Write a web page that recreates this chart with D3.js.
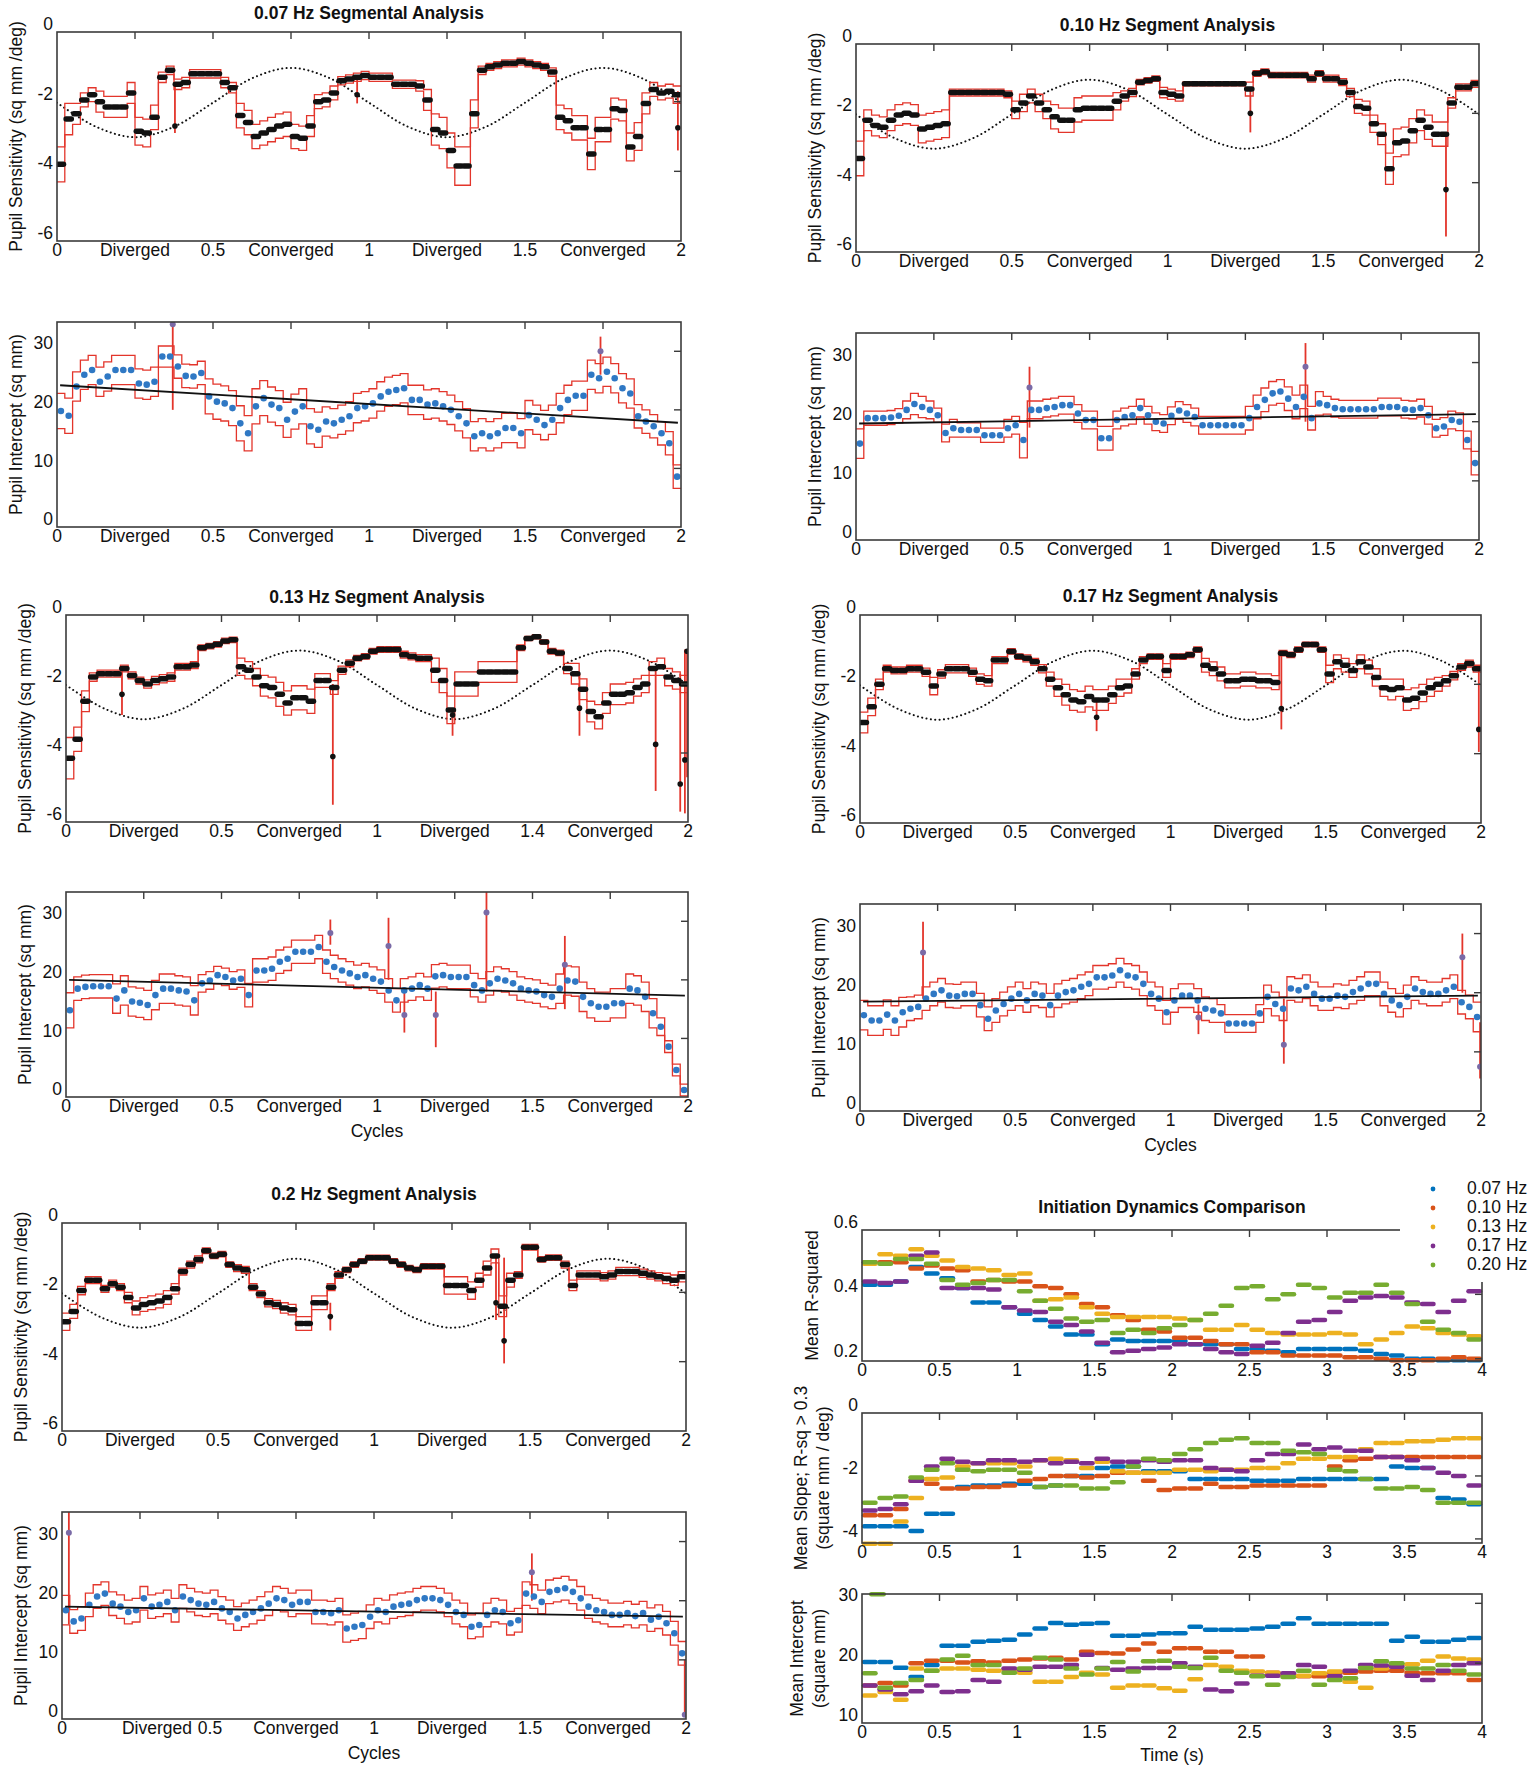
<!DOCTYPE html>
<html><head><meta charset="utf-8">
<script src="https://cdn.jsdelivr.net/npm/d3@7/dist/d3.min.js"></script>
<style>body{margin:0;background:#fff} text{font-family:"Liberation Sans",Arial,Helvetica,sans-serif;fill:#111}</style>
</head><body><svg id="c" width="1535" height="1772"></svg>
<script>
// ---------------- DATA ----------------
const xTickVals = [0,0.25,0.5,0.75,1,1.25,1.5,1.75,2];
const xTickLabels = ["0","Diverged","0.5","Converged","1","Diverged","1.5","Converged","2"];
const xTickLabels13 = ["0","Diverged","0.5","Converged","1","Diverged","1.4","Converged","2"];
const sensTicks = [0,-2,-4,-6];
const intTicks = [0,10,20,30];
const timeTicks = [0,0.5,1,1.5,2,2.5,3,3.5,4];
const timeTickLabels = ["0","0.5","1","1.5","2","2.5","3","3.5","4"];
const rsqTicks = [0.2,0.4,0.6];
const slopeTicks = [-4,-2,0];
const meanIntTicks = [10,20,30];

// stimulus (dotted trace), read at every 1/8 cycle
const stimulusCycles = [0,0.125,0.25,0.375,0.5,0.625,0.75,0.875,1,1.125,1.25,1.375,1.5,1.625,1.75,1.875,2];
const stimulus = [-2.03,-2.72,-3.02,-2.72,-2.03,-1.33,-1.03,-1.33,-2.03,-2.72,-3.02,-2.72,-2.03,-1.33,-1.03,-1.33,-2.03];

// segment values, one per 0.025 cycle (80 per series)
const sens07 = [-3.8,-2.5,-2.35,-1.95,-1.8,-2.0,-2.15,-2.15,-2.15,-1.75,
-2.85,-2.9,-2.45,-1.3,-1.1,-1.5,-1.45,-1.2,-1.2,-1.2,
-1.2,-1.45,-1.6,-2.4,-2.6,-3.0,-2.9,-2.8,-2.7,-2.65,
-3.0,-3.05,-2.7,-2.0,-1.95,-1.75,-1.4,-1.35,-1.3,-1.25,
-1.3,-1.3,-1.3,-1.5,-1.5,-1.5,-1.55,-1.95,-2.8,-2.9,
-3.4,-3.85,-3.85,-2.35,-1.1,-1.0,-0.95,-0.9,-0.9,-0.85,
-0.9,-0.95,-1.0,-1.15,-2.45,-2.55,-2.75,-2.75,-3.5,-2.8,
-2.8,-2.2,-2.25,-3.3,-3.0,-2.05,-1.65,-1.75,-1.7,-1.8];
const sens07Spread = [0.5,0.45,0.3,0.2,0.2,0.3,0.3,0.3,0.3,0.3,
0.4,0.4,0.35,0.15,0.12,0.15,0.15,0.12,0.12,0.12,
0.12,0.15,0.15,0.35,0.35,0.35,0.35,0.35,0.35,0.35,
0.35,0.35,0.3,0.2,0.2,0.2,0.12,0.12,0.12,0.12,
0.12,0.12,0.12,0.12,0.12,0.12,0.15,0.3,0.45,0.45,
0.5,0.55,0.55,0.4,0.12,0.1,0.1,0.1,0.1,0.1,
0.1,0.1,0.1,0.12,0.35,0.35,0.35,0.35,0.45,0.35,
0.35,0.3,0.3,0.4,0.4,0.3,0.2,0.2,0.2,0.25];
const sens07Spikes = [[0.378,-2.9,-1.5,-2.7],[0.962,-2.05,-1.3,-1.8],[1.99,-3.4,-1.7,-2.75]];

const sens10 = [-3.3,-2.2,-2.35,-2.4,-2.2,-2.05,-2.0,-2.05,-2.45,-2.4,
-2.35,-2.3,-1.4,-1.4,-1.4,-1.4,-1.4,-1.4,-1.4,-1.45,
-1.9,-1.7,-1.5,-1.7,-1.9,-2.1,-2.2,-2.2,-1.9,-1.85,
-1.85,-1.85,-1.85,-1.65,-1.5,-1.4,-1.1,-1.05,-1.0,-1.4,
-1.45,-1.5,-1.15,-1.15,-1.15,-1.15,-1.15,-1.15,-1.15,-1.15,
-1.3,-0.85,-0.8,-0.9,-0.9,-0.9,-0.9,-0.9,-1.0,-0.85,
-1.0,-1.0,-1.1,-1.4,-1.8,-1.85,-2.3,-2.6,-3.6,-2.85,
-2.8,-2.5,-2.2,-2.4,-2.6,-2.6,-1.7,-1.25,-1.25,-1.15];
const sens10Spread = [0.5,0.3,0.3,0.3,0.3,0.3,0.3,0.3,0.4,0.4,
0.4,0.4,0.1,0.1,0.1,0.1,0.1,0.1,0.1,0.1,
0.25,0.25,0.2,0.25,0.25,0.35,0.35,0.35,0.35,0.35,
0.35,0.35,0.35,0.25,0.15,0.12,0.08,0.08,0.08,0.15,
0.15,0.15,0.06,0.06,0.06,0.06,0.06,0.06,0.06,0.06,
0.2,0.08,0.08,0.08,0.08,0.08,0.08,0.08,0.1,0.08,
0.1,0.1,0.1,0.12,0.2,0.2,0.25,0.3,0.45,0.4,
0.4,0.35,0.3,0.35,0.35,0.35,0.15,0.1,0.1,0.1];
const sens10Spikes = [[1.266,-2.55,-1.3,-2.0],[1.894,-5.55,-2.6,-4.2]];

const sens13 = [-4.15,-3.6,-2.5,-1.8,-1.7,-1.7,-1.7,-1.55,-1.75,-1.9,
-2.0,-1.9,-1.85,-1.8,-1.5,-1.5,-1.45,-0.95,-0.9,-0.85,
-0.75,-0.72,-1.5,-1.6,-1.8,-2.05,-2.1,-2.3,-2.55,-2.4,
-2.4,-2.5,-1.9,-1.9,-2.1,-1.6,-1.4,-1.25,-1.2,-1.05,
-1.0,-1.0,-1.0,-1.15,-1.2,-1.25,-1.25,-1.6,-1.9,-2.75,
-2.0,-2.0,-2.0,-1.65,-1.65,-1.65,-1.65,-1.65,-0.95,-0.68,
-0.63,-0.78,-1.05,-1.1,-1.55,-1.7,-2.15,-2.8,-2.95,-2.55,
-2.3,-2.3,-2.25,-2.1,-2.0,-1.55,-1.5,-1.8,-1.9,-2.0];
const sens13Spread = [0.6,0.35,0.3,0.12,0.1,0.1,0.1,0.1,0.1,0.1,
0.12,0.12,0.12,0.12,0.1,0.1,0.1,0.08,0.08,0.08,
0.08,0.08,0.25,0.25,0.25,0.3,0.3,0.35,0.35,0.35,
0.35,0.35,0.2,0.2,0.2,0.12,0.1,0.08,0.08,0.08,
0.08,0.08,0.08,0.1,0.1,0.1,0.1,0.35,0.35,0.4,
0.35,0.35,0.35,0.3,0.3,0.3,0.3,0.3,0.08,0.06,
0.06,0.06,0.08,0.08,0.15,0.3,0.3,0.3,0.35,0.3,
0.3,0.3,0.3,0.25,0.25,0.2,0.25,0.25,0.25,0.25];
const sens13Spikes = [[0.18,-2.9,-1.6,-2.3],[0.858,-5.5,-2.0,-4.1],[1.243,-3.5,-2.7,-2.9],[1.651,-3.5,-1.7,-2.7],
[1.896,-5.1,-1.6,-3.75],[1.975,-5.7,-1.7,-4.9],[1.99,-5.75,-1.0,-4.2],[1.997,-4.7,-1.0,-1.05]];

const sens17 = [-3.1,-2.65,-2.0,-1.55,-1.6,-1.6,-1.55,-1.55,-1.65,-2.05,
-1.7,-1.55,-1.55,-1.55,-1.65,-1.85,-1.9,-1.3,-1.3,-1.05,
-1.2,-1.25,-1.35,-1.55,-1.85,-2.1,-2.3,-2.45,-2.5,-2.35,
-2.45,-2.45,-2.3,-2.1,-2.05,-1.7,-1.3,-1.2,-1.2,-1.6,
-1.2,-1.2,-1.15,-1.0,-1.45,-1.55,-1.7,-1.9,-1.9,-1.85,
-1.85,-1.9,-1.9,-1.95,-1.1,-1.15,-1.0,-0.85,-0.85,-1.0,
-1.7,-1.35,-1.45,-1.6,-1.35,-1.5,-1.8,-2.1,-2.15,-2.1,
-2.45,-2.4,-2.25,-2.1,-2.0,-1.9,-1.75,-1.5,-1.4,-1.55];
const sens17Spread = [0.3,0.25,0.15,0.1,0.1,0.1,0.1,0.1,0.12,0.25,
0.12,0.12,0.12,0.12,0.12,0.15,0.15,0.1,0.1,0.08,
0.08,0.1,0.1,0.12,0.2,0.25,0.3,0.3,0.3,0.3,
0.3,0.3,0.25,0.25,0.2,0.15,0.1,0.08,0.08,0.2,
0.08,0.08,0.08,0.08,0.2,0.2,0.2,0.2,0.2,0.2,
0.2,0.2,0.2,0.2,0.08,0.08,0.08,0.07,0.07,0.08,
0.25,0.2,0.2,0.2,0.2,0.2,0.25,0.25,0.3,0.25,
0.3,0.3,0.25,0.25,0.2,0.15,0.12,0.1,0.1,0.1];
const sens17Spikes = [[0.762,-3.35,-2.5,-2.95],[1.357,-3.3,-1.1,-2.7],[1.993,-3.95,-1.55,-3.3]];

const sens20 = [-2.85,-2.55,-1.95,-1.65,-1.65,-1.9,-1.75,-1.85,-2.15,-2.45,
-2.35,-2.3,-2.25,-2.15,-1.9,-1.4,-1.2,-1.05,-0.8,-0.95,
-0.9,-1.2,-1.3,-1.35,-1.85,-2.05,-2.3,-2.35,-2.45,-2.5,
-2.9,-2.9,-2.3,-2.3,-1.85,-1.5,-1.35,-1.2,-1.1,-1.0,
-1.0,-1.0,-1.1,-1.2,-1.3,-1.35,-1.25,-1.25,-1.25,-1.8,
-1.8,-1.8,-1.95,-1.65,-1.3,-0.95,-2.4,-1.65,-1.5,-0.7,
-0.7,-1.05,-1.0,-1.0,-1.2,-1.8,-1.5,-1.5,-1.5,-1.55,
-1.5,-1.4,-1.4,-1.4,-1.45,-1.5,-1.55,-1.6,-1.65,-1.55];
const sens20Spread = [0.25,0.2,0.12,0.1,0.1,0.1,0.1,0.1,0.15,0.2,
0.2,0.2,0.2,0.2,0.15,0.1,0.1,0.1,0.08,0.08,
0.08,0.08,0.1,0.1,0.1,0.1,0.12,0.12,0.15,0.15,
0.2,0.2,0.2,0.2,0.1,0.1,0.08,0.08,0.07,0.07,
0.07,0.07,0.07,0.08,0.08,0.08,0.08,0.08,0.08,0.25,
0.25,0.25,0.25,0.2,0.2,0.2,0.3,0.2,0.1,0.08,
0.08,0.08,0.08,0.08,0.1,0.15,0.12,0.12,0.12,0.12,
0.12,0.12,0.12,0.12,0.12,0.12,0.12,0.15,0.15,0.15];
const sens20Spikes = [[0.86,-3.1,-2.3,-2.7],[1.391,-2.8,-1.0,-2.3],[1.417,-4.05,-1.0,-3.4]];

const int07 = [19.8,19.0,24.0,26.0,26.8,24.8,25.7,26.8,26.8,26.8,
24.5,24.3,24.8,29.1,29.1,27.4,25.8,25.7,26.3,22.3,
21.4,21.1,20.3,17.7,16.0,20.6,22.0,20.9,20.3,18.3,
19.7,20.6,17.2,16.6,18.0,17.7,18.3,18.9,20.3,20.6,
21.1,22.3,23.1,23.4,23.7,21.7,21.7,20.9,21.1,20.6,
20.0,18.9,17.7,15.5,16.0,15.5,16.0,16.9,16.9,16.0,
19.1,18.3,17.4,18.3,20.3,21.7,22.4,22.4,26.0,25.4,
26.5,25.4,23.7,22.8,18.9,18.0,17.2,16.0,14.3,8.6];
const int07Spread = [3,3,2.5,2.5,2.5,2.5,2.5,2.5,2.5,2.5,
2.5,2.5,2.5,1.8,1.8,2,2,2,2,3,
3,3,3,3,3,3,3,3,3,3,
3,3,3,3,2.5,2.5,2.5,2.5,2.5,2.5,
2.5,2.5,2.5,2.5,2.5,2.5,2.5,2.5,2.5,2.5,
2.5,2.5,2.5,2.5,2.5,2.5,2.5,2.5,2.5,2.5,
2.5,2.5,2.5,2.5,2.5,2.5,2.5,2.5,2.5,2.5,
2.5,2.5,2.5,2.5,2,2,2,2,2,2];
const int07Spikes = [[0.371,20,35,34.6],[1.742,26,32.5,30]];
const int07Trend = [24.2,17.8];

const int10 = [16.3,20.6,20.6,20.6,20.7,21.0,22.0,23.0,22.5,22.0,
21.1,18.1,18.9,18.6,18.6,18.6,17.7,17.7,17.7,18.9,
19.4,16.9,22.0,22.0,22.3,22.5,22.8,22.8,21.4,20.3,
20.3,17.2,17.2,20.3,20.8,21.1,22.3,21.1,20.0,19.7,
21.0,21.9,21.4,20.8,19.4,19.4,19.4,19.4,19.4,19.4,
20.6,22.5,23.7,24.8,25.1,23.9,22.5,24.2,20.6,23.1,
22.8,22.3,22.1,22.1,22.1,22.1,22.1,22.5,22.5,22.5,
22.1,22.0,22.3,21.1,18.9,19.2,20.3,20.0,16.9,13.0];
const int10Spread = [2.5,1.2,1.2,1.2,1.2,1.2,1.5,1.8,1.8,1.5,
1.2,1.5,1.5,1.2,1.2,1.2,1.2,1.2,1.2,1.5,
1.5,3,1.5,1.5,1.5,1.5,1.5,1.5,1.5,1.5,
1.5,2,2,1.5,1.5,1.5,1.5,1.5,1.5,1.5,
1.5,1.5,1.5,1.5,1.5,1.5,1.5,1.5,1.5,1.5,
2,2,2,2,2,2,2,2,2,2,
1.5,1.5,1.5,1.5,1.5,1.5,1.5,1.5,1.5,1.5,
1.5,1.5,1.5,1.5,1.5,1.5,1.5,1.5,1.5,2];
const int10Spikes = [[0.557,19,29.3,25.8],[1.443,20,33.3,29.3]];
const int10Trend = [19.7,21.3];

const int13 = [14.8,18.5,18.8,18.9,18.9,18.9,16.8,18.2,16.3,16.1,
15.7,17.4,18.5,18.5,18.2,18.0,16.5,19.4,19.9,20.8,
20.5,19.9,20.2,17.4,21.6,21.6,21.9,23.1,23.6,24.8,
24.8,24.8,25.6,23.1,22.2,21.6,21.1,20.5,20.8,20.2,
19.7,18.2,16.5,18.2,18.5,19.1,18.5,20.6,20.8,20.5,
20.5,20.5,19.1,18.2,19.4,20.2,19.9,19.4,18.5,18.2,
18.0,17.4,17.1,18.5,19.9,19.7,17.1,16.0,15.4,15.4,
16.0,16.0,18.5,18.2,17.1,14.3,12.0,8.6,4.6,1.2];
const int13Spread = [3,2,2,2,2,2,2.5,2.5,2.5,2.5,
2.5,2.5,2.5,2.5,2.5,2.5,2.5,1.5,1.5,1.5,
1.5,1.5,1.5,2,2,2,2,2,2,2,
2,2,2,2,2,2,2,2,2,2,
2,2,2,2,2,2,2,2,2,2,
2,2,2,2,2,2,2,2,2,2,
2,2,2,2.5,2.5,2.5,2.5,2.5,2.5,2.5,
2.5,2.5,2.5,2.5,2.5,2.5,1.5,1,1,1];
const int13Spikes = [[0.85,26,30.3,28],[1.037,20,30.6,25.8],[1.088,11,18,14],[1.189,8.5,18,14],[1.352,18,35,31.5],[1.604,15,27.5,22.6]];
const int13Trend = [20.0,17.3];

const int17 = [16.2,15.3,15.3,16.3,15.3,16.7,17.3,17.6,19.0,19.8,
20.4,19.5,19.4,19.8,19.8,17.9,15.6,17.0,18.1,19.0,
19.8,18.7,19.8,19.5,17.9,19.5,20.1,20.4,21.0,21.5,
22.6,22.6,22.9,23.8,22.9,22.6,21.5,19.8,19.0,16.7,
18.7,19.5,19.5,18.7,17.3,17.0,16.5,14.8,14.8,14.8,
14.8,16.5,19.3,18.1,17.3,20.7,20.4,21.0,19.8,19.0,
19.0,19.5,19.3,20.1,20.7,21.5,21.5,19.8,18.7,17.9,
19.3,20.7,20.1,19.8,19.8,20.4,21.0,18.4,17.6,15.9];
const int17Spread = [2.5,2.5,2.5,2.5,2.5,2.5,2,2,2,2,
2,2,2,2,2,2,2,2,2,2,
2,2,2,2,2,2,2,2,2,2,
2,2,2,2,2,2,2,2,2,2,
2,2,2,2,2,2,1.5,1.5,1.5,1.5,
1.5,1.5,2,2,2,2,2,2,2,2,
2,2,2,2,2,2,2,2,2,2,
2,2,2,2,2,2,2,2,2,2.5];
const int17Spikes = [[0.203,19,32,26.8],[1.09,13,18,15.8],[1.365,8,19,11.2],[1.94,20,30,26],[1.997,5.5,15,7.5]];
const int17Trend = [18.5,19.5];

const int20 = [18.4,16.5,17.0,19.3,20.7,21.2,19.5,19.0,18.1,18.4,
20.4,19.0,19.3,19.8,18.4,20.7,20.1,19.5,19.3,19.8,
18.7,18.1,17.0,17.6,18.1,18.7,19.5,20.4,20.1,19.3,
19.8,19.8,18.1,18.1,17.9,18.4,15.3,15.6,15.9,17.3,
18.4,18.1,19.0,19.3,19.5,20.1,20.4,20.4,20.1,19.3,
18.1,17.6,15.6,15.9,17.6,18.4,18.1,16.2,16.7,21.2,
20.7,19.8,21.5,21.8,22.1,21.5,20.4,19.0,18.4,18.1,
17.6,17.6,17.9,17.4,17.9,16.8,17.3,16.2,14.5,11.1];
const int20Spread = [2.5,2,2,2,2,2,2,2,2,2,
2,2,2,2,2,2,2,2,2,2,
2,2,2,2,2,2,2,2,2,2,
2,2,2,2,2,2,2.3,2.3,2.3,2,
2,2,2,2,2,2,2,2,2,2,
2,2,2,2,2,2,2,2,2,2,
2,2,2,2,2,2,2,2,2,2,
2,2,2,2,2,2,2,2,2,2];
const int20Spikes = [[0.022,16,35,31.5],[1.506,20,28,24.8],[1.996,0.5,10,0.7]];
const int20Trend = [19.0,17.3];

// Initiation dynamics: one value per 0.1 s (40 per series)
const freqNames = ["0.07 Hz","0.10 Hz","0.13 Hz","0.17 Hz","0.20 Hz"];
const freqColors = ["#0072BD","#D95319","#EDB120","#7E2F8E","#77AC30"];
const rsq07 = [0.43,0.43,0.44,0.485,0.465,0.45,0.42,0.375,0.375,0.36,0.34,0.32,0.30,0.275,0.275,0.245,0.26,0.255,0.255,0.255,0.255,0.245,0.245,0.245,0.23,0.23,0.225,0.22,0.23,0.23,0.23,0.23,0.225,0.215,0.21,0.2,0.2,0.195,0.195,0.195];
const rsq10 = [0.50,0.50,0.50,0.48,0.49,0.48,0.475,0.44,0.445,0.44,0.44,0.425,0.42,0.40,0.37,0.36,0.335,0.32,0.29,0.285,0.265,0.265,0.255,0.245,0.245,0.22,0.22,0.21,0.21,0.21,0.21,0.205,0.205,0.2,0.195,0.195,0.195,0.2,0.205,0.2];
const rsq13 = [0.495,0.525,0.52,0.54,0.52,0.505,0.485,0.48,0.475,0.46,0.465,0.38,0.385,0.39,0.36,0.34,0.33,0.33,0.33,0.33,0.325,0.32,0.29,0.29,0.305,0.29,0.28,0.275,0.275,0.275,0.28,0.275,0.245,0.26,0.28,0.30,0.295,0.28,0.275,0.27];
const rsq17 = [0.44,0.435,0.44,0.52,0.53,0.42,0.42,0.42,0.415,0.36,0.35,0.345,0.315,0.305,0.285,0.25,0.22,0.225,0.23,0.235,0.245,0.245,0.23,0.22,0.215,0.24,0.25,0.28,0.315,0.32,0.345,0.38,0.39,0.395,0.39,0.375,0.37,0.345,0.38,0.41];
const rsq20 = [0.50,0.495,0.51,0.51,0.495,0.445,0.43,0.435,0.445,0.445,0.41,0.38,0.355,0.325,0.315,0.32,0.28,0.29,0.28,0.295,0.305,0.32,0.34,0.365,0.42,0.425,0.385,0.40,0.43,0.42,0.39,0.405,0.405,0.43,0.405,0.37,0.315,0.29,0.28,0.26];

const slope07 = [-3.6,-3.6,-3.6,-3.75,-3.2,-3.2,-2.35,-2.3,-2.3,-2.25,-2.25,-2.35,-2.3,-2.0,-2.0,-1.75,-1.7,-1.7,-1.85,-1.85,-1.85,-2.1,-2.1,-2.1,-2.1,-2.15,-2.15,-2.15,-2.1,-2.1,-2.1,-2.1,-2.1,-2.1,-1.7,-1.75,-1.75,-2.7,-2.75,-2.9];
const slope10 = [-3.25,-3.25,-3.05,-2.15,-2.25,-2.4,-2.4,-2.35,-2.35,-2.3,-2.15,-2.1,-2.0,-2.0,-2.05,-2.0,-1.9,-1.9,-2.15,-2.45,-2.4,-2.4,-2.25,-2.35,-2.35,-2.3,-2.3,-2.3,-2.3,-2.3,-1.7,-1.5,-1.45,-1.4,-1.4,-1.4,-1.4,-1.4,-1.4,-1.4];
const slope13 = [-4.15,-4.15,-3.45,-2.7,-2.1,-2.05,-1.7,-1.6,-1.6,-1.6,-1.7,-1.5,-1.45,-1.5,-1.75,-1.55,-1.85,-1.9,-1.9,-1.9,-1.8,-1.8,-1.85,-1.8,-1.8,-1.75,-1.75,-1.6,-1.45,-1.45,-1.4,-1.4,-1.15,-0.95,-0.95,-0.9,-0.9,-0.85,-0.8,-0.8];
const slope17 = [-3.1,-3.05,-2.9,-2.15,-1.7,-1.45,-1.55,-1.6,-1.5,-1.5,-1.55,-1.5,-1.6,-1.55,-1.6,-1.45,-1.55,-1.55,-1.5,-1.55,-1.5,-1.5,-1.75,-1.8,-1.85,-1.5,-1.3,-1.3,-1.0,-1.15,-1.1,-1.2,-1.2,-1.4,-1.4,-1.5,-1.75,-1.9,-2.0,-2.3];
const slope20 = [-2.85,-2.7,-2.65,-2.05,-1.8,-1.6,-1.8,-1.85,-1.8,-1.8,-1.9,-2.35,-2.3,-2.3,-2.4,-2.4,-2.2,-1.7,-1.45,-1.5,-1.3,-1.15,-0.95,-0.85,-0.8,-0.95,-0.95,-1.2,-1.25,-1.3,-1.8,-1.85,-2.1,-2.4,-2.4,-2.35,-2.45,-2.85,-2.85,-2.85];

const mint07 = [20.2,20.2,19.25,17.7,19.7,22.9,22.9,23.6,23.75,23.9,24.8,25.8,26.7,26.4,26.6,26.7,24.6,24.6,24.8,25.0,25.0,26.1,25.6,25.6,25.6,25.8,26.1,26.6,27.5,26.6,26.6,26.6,26.6,26.6,23.75,24.4,23.6,23.6,23.9,24.2];
const mint10 = [16.25,16.7,16.25,20.0,20.4,20.4,20.1,20.3,20.1,20.4,20.6,20.8,20.9,20.6,21.9,21.7,21.6,22.3,23.3,21.9,22.5,22.5,21.9,21.9,21.1,21.1,18.4,18.1,17.8,17.8,18.4,18.4,18.6,18.75,18.75,18.4,18.3,18.3,18.3,17.2];
const mint13 = [14.6,15.2,13.9,19.1,18.75,19.1,19.1,18.9,18.75,18.9,18.4,16.9,16.9,17.7,18.4,18.1,15.9,16.25,16.25,15.8,15.4,17.3,19.7,19.4,18.75,18.6,18.4,17.9,17.9,18.3,18.6,16.9,15.9,19.1,19.7,19.8,20.4,21.1,20.8,20.6];
const mint17 = [16.25,15.6,14.8,15.3,16.25,15.2,15.3,17.2,16.9,19.1,18.9,19.4,19.4,19.7,21.4,19.2,18.9,19.1,19.2,19.2,20.0,19.4,15.6,15.3,16.6,17.9,17.9,18.3,19.7,19.4,17.8,18.75,19.7,19.6,19.4,17.9,17.2,18.75,19.7,20.0];
const mint20 = [18.3,15.9,16.7,17.2,18.75,20.6,21.25,19.7,19.7,18.4,19.1,20.9,20.6,19.1,18.1,19.1,20.2,18.6,20.3,20.4,19.4,19.2,20.9,18.75,18.4,17.8,16.4,17.7,18.75,16.4,17.2,17.5,19.2,20.3,20.0,19.1,19.1,19.7,18.75,18.1];
const mint20Outlier = [[0.1,31.5]];

// ---------------- DRAWING ----------------
const svg = d3.select('#c');
svg.append('rect').attr('width',1535).attr('height',1772).attr('fill','#fff');
const RED='#E3352B', BLUE='#2F78C4', FRAME='#3b3b3b', FS=17.5;
let clipN=0;

function clipFor(l,t,r,b){
  const id='clip'+(clipN++);
  svg.append('clipPath').attr('id',id).append('rect').attr('x',l).attr('y',t).attr('width',r-l).attr('height',b-t);
  return `url(#${id})`;
}
function frame(g,p,xs,ys,xVals,yVals){
  g.append('rect').attr('x',p.l).attr('y',p.t).attr('width',p.r-p.l).attr('height',p.b-p.t)
   .attr('fill','none').attr('stroke',FRAME).attr('stroke-width',1.6);
  xVals.forEach(v=>{ const X=xs(v); if(X>p.l+2&&X<p.r-2) g.append('line').attr('x1',X).attr('x2',X).attr('y1',p.t).attr('y2',p.t+7).attr('stroke',FRAME).attr('stroke-width',1.4);});
  yVals.forEach(v=>{ const Y=ys(v); if(Y>p.t+2&&Y<p.b-2) g.append('line').attr('x1',p.r).attr('x2',p.r-7).attr('y1',Y).attr('y2',Y).attr('stroke',FRAME).attr('stroke-width',1.4);});
}
function yTickText(g,p,ys,vals,labels){
  vals.forEach((v,i)=>g.append('text').attr('x',p.l-4).attr('y',ys(v)-8).attr('dy','0.35em')
    .attr('text-anchor','end').attr('font-size',FS).text(labels?labels[i]:String(v)));
}
function xTickText(g,p,xs,vals,labels,dxs){
  vals.forEach((v,i)=>g.append('text').attr('x',xs(v)+((dxs&&dxs[i])||0)).attr('y',p.b+15)
    .attr('text-anchor','middle').attr('font-size',FS).text(labels[i]));
}
function yTitle(g,x,cy,lines){
  const t=g.append('text').attr('transform',`translate(${x},${cy}) rotate(-90)`).attr('text-anchor','middle').attr('font-size',FS);
  lines.forEach((s,i)=>t.append('tspan').attr('x',0).attr('dy',i===0?(lines.length===1?'0.35em':'-0.25em'):'1.2em').text(s));
}

function drawSeg(p){
  const xs=d3.scaleLinear().domain([0,2]).range([p.l,p.r]);
  const ys=d3.scaleLinear().domain(p.dom).range([p.b,p.t]);
  const g=svg.append('g');
  const pg=g.append('g').attr('clip-path',clipFor(p.l,p.t,p.r,p.b));
  if(p.sens){
    pg.append('path').attr('d',d3.line().x((d,i)=>xs(stimulusCycles[i])).y(d=>ys(d)).curve(d3.curveCatmullRom)(stimulus))
      .attr('fill','none').attr('stroke','#111').attr('stroke-width',2).attr('stroke-dasharray','0.1 4.3').attr('stroke-linecap','round');
  }
  const n=p.vals.length, st=2/n;
  const stepLine=d3.line().x(d=>xs(d[0])).y(d=>ys(d[1])).curve(d3.curveStepAfter);
  [1,-1].forEach(sg=>{
    const pts=p.vals.map((v,i)=>[i*st, v+sg*p.spread[i]]);
    pts.push([2, pts[n-1][1]]);
    pg.append('path').attr('d',stepLine(pts)).attr('fill','none').attr('stroke',RED).attr('stroke-width',1.3);
  });
  pg.selectAll(null).data(p.spikes).join('line')
    .attr('x1',d=>xs(d[0])).attr('x2',d=>xs(d[0])).attr('y1',d=>ys(d[1])).attr('y2',d=>ys(d[2]))
    .attr('stroke',RED).attr('stroke-width',1.8);
  if(p.sens){
    pg.selectAll(null).data(p.vals).join('line')
      .attr('x1',(d,i)=>xs(i*st)+1.3).attr('x2',(d,i)=>xs((i+1)*st)-1.3)
      .attr('y1',d=>ys(d)).attr('y2',d=>ys(d))
      .attr('stroke','#111').attr('stroke-width',5.5).attr('stroke-linecap','round');
    pg.selectAll(null).data(p.spikes).join('circle').attr('cx',d=>xs(d[0])).attr('cy',d=>ys(d[3])).attr('r',2.8).attr('fill','#111');
  } else {
    pg.selectAll(null).data(p.vals).join('circle')
      .attr('cx',(d,i)=>xs((i+0.5)*st)).attr('cy',d=>ys(d)).attr('r',3.3).attr('fill',BLUE);
    pg.selectAll(null).data(p.spikes).join('circle').attr('cx',d=>xs(d[0])).attr('cy',d=>ys(d[3])).attr('r',3).attr('fill','#7a6aa6');
    g.append('line').attr('x1',xs(0.01)).attr('x2',xs(1.99)).attr('y1',ys(p.trend[0])).attr('y2',ys(p.trend[1]))
      .attr('stroke','#111').attr('stroke-width',1.8);
  }
  const yv=p.sens?sensTicks:intTicks;
  frame(g,p,xs,ys,xTickVals,yv);
  yTickText(g,p,ys,yv);
  xTickText(g,p,xs,xTickVals,p.xLabels||xTickLabels,p.labelDx);
  yTitle(g,p.l-41,(p.t+p.b)/2,[p.sens?'Pupil Sensitivity (sq mm /deg)':'Pupil Intercept (sq mm)']);
  if(p.title) g.append('text').attr('x',(p.l+p.r)/2).attr('y',p.titleY).attr('text-anchor','middle')
     .attr('font-size',FS).attr('font-weight','bold').text(p.title);
  if(p.cycles) g.append('text').attr('x',(p.l+p.r)/2).attr('y',p.cycles).attr('text-anchor','middle').attr('font-size',FS).text('Cycles');
}

const L1={l:57,r:681},L3={l:66,r:688},L5={l:62,r:686},R1={l:856,r:1479},R3={l:860,r:1481};
drawSeg({...L1,t:32,b:241,dom:[-6,0],sens:true,vals:sens07,spread:sens07Spread,spikes:sens07Spikes,title:'0.07 Hz Segmental Analysis',titleY:19});
drawSeg({...L1,t:322,b:527,dom:[0,35],sens:false,vals:int07,spread:int07Spread,spikes:int07Spikes,trend:int07Trend});
drawSeg({...R1,t:44,b:252,dom:[-6,0],sens:true,vals:sens10,spread:sens10Spread,spikes:sens10Spikes,title:'0.10 Hz Segment Analysis',titleY:31});
drawSeg({...R1,t:333,b:540,dom:[0,35],sens:false,vals:int10,spread:int10Spread,spikes:int10Spikes,trend:int10Trend});
drawSeg({...L3,t:615,b:822,dom:[-6,0],sens:true,vals:sens13,spread:sens13Spread,spikes:sens13Spikes,title:'0.13 Hz Segment Analysis',titleY:603,xLabels:xTickLabels13});
drawSeg({...L3,t:892,b:1097,dom:[0,35],sens:false,vals:int13,spread:int13Spread,spikes:int13Spikes,trend:int13Trend,cycles:1137});
drawSeg({...R3,t:615,b:823,dom:[-6,0],sens:true,vals:sens17,spread:sens17Spread,spikes:sens17Spikes,title:'0.17 Hz Segment Analysis',titleY:602,labelDx:[0,0,0,0,0,0,0,0,0]});
drawSeg({...R3,t:904,b:1111,dom:[0,35],sens:false,vals:int17,spread:int17Spread,spikes:int17Spikes,trend:int17Trend,cycles:1151});
drawSeg({...L5,t:1223,b:1431,dom:[-6,0],sens:true,vals:sens20,spread:sens20Spread,spikes:sens20Spikes,title:'0.2 Hz Segment Analysis',titleY:1200});
drawSeg({...L5,t:1512,b:1719,dom:[0,35],sens:false,vals:int20,spread:int20Spread,spikes:int20Spikes,trend:int20Trend,cycles:1759,labelDx:[0,17,-8,0,0,0,0,0,0]});

// ---- Initiation dynamics ----
function drawInit(p){
  const xs=d3.scaleLinear().domain([0,4]).range([p.l,p.r]);
  const ys=d3.scaleLinear().domain(p.dom).range([p.b,p.t]);
  const g=svg.append('g');
  const pg=g.append('g').attr('clip-path',clipFor(p.l-4,p.t-4,p.r+4,p.b+4));
  p.series.forEach((s,k)=>{
    pg.selectAll(null).data(s).join('line')
      .attr('x1',(d,i)=>xs(i*0.1)+2).attr('x2',(d,i)=>xs((i+1)*0.1)-2)
      .attr('y1',d=>ys(d)).attr('y2',d=>ys(d))
      .attr('stroke',freqColors[k]).attr('stroke-width',4.5).attr('stroke-linecap','round');
  });
  if(p.outliers) p.outliers.forEach(o=>pg.append('line').attr('x1',xs(o[0]-0.04)).attr('x2',xs(o[0]+0.04))
      .attr('y1',ys(o[1])).attr('y2',ys(o[1])).attr('stroke',freqColors[4]).attr('stroke-width',4.5).attr('stroke-linecap','round'));
  frame(g,p,xs,ys,timeTicks,p.ticks);
  yTickText(g,p,ys,p.ticks,p.tickLabels);
  xTickText(g,p,xs,timeTicks,timeTickLabels);
  p.ylab.forEach(q=>yTitle(g,q[0],(p.t+p.b)/2,[q[1]]));
}
const IX={l:862,r:1482};
drawInit({...IX,t:1230,b:1361,dom:[0.193,0.6],series:[rsq07,rsq10,rsq13,rsq17,rsq20],ticks:rsqTicks,tickLabels:['0.2','0.4','0.6'],ylab:[[812,'Mean R-squared']]});
drawInit({...IX,t:1413,b:1543,dom:[-4.13,0],series:[slope07,slope10,slope13,slope17,slope20],ticks:slopeTicks,ylab:[[801,'Mean Slope; R-sq > 0.3'],[823,'(square mm / deg)']]});
drawInit({...IX,t:1594,b:1723,dom:[10,31.56],series:[mint07,mint10,mint13,mint17,mint20],ticks:meanIntTicks,outliers:mint20Outlier,ylab:[[797,'Mean Intercept'],[819,'(square mm)']]});
svg.append('text').attr('x',(IX.l+IX.r)/2).attr('y',1213).attr('text-anchor','middle').attr('font-size',FS).attr('font-weight','bold').text('Initiation Dynamics Comparison');
svg.append('text').attr('x',(IX.l+IX.r)/2).attr('y',1761).attr('text-anchor','middle').attr('font-size',FS).text('Time (s)');

// legend (white box over the top-right of the first panel)
const lg=svg.append('g');
lg.append('rect').attr('x',1400).attr('y',1165).attr('width',135).attr('height',117).attr('fill','#fff');
freqNames.forEach((nm,i)=>{
  const yy=1188+i*19;
  lg.append('circle').attr('cx',1433).attr('cy',yy+1).attr('r',2.4).attr('fill',freqColors[i]);
  lg.append('text').attr('x',1467).attr('y',yy).attr('dy','0.35em').attr('font-size',FS).text(nm);
});
</script></body></html>
